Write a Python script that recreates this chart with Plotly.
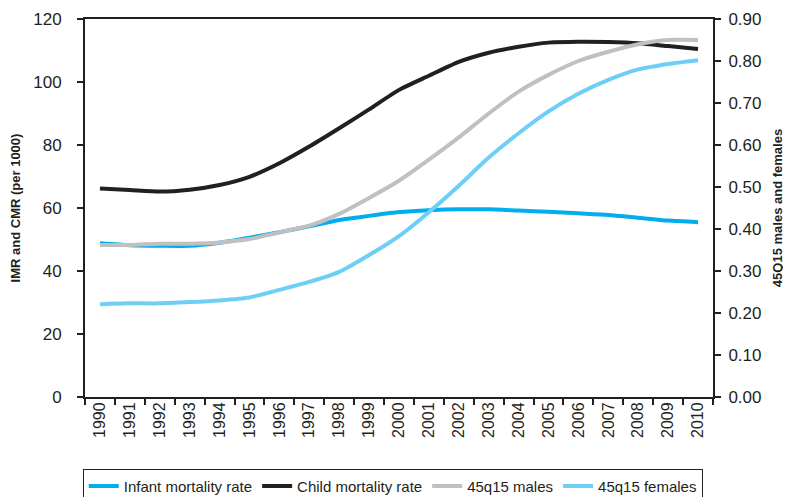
import plotly.graph_objects as go

years = [str(y) for y in range(1990, 2011)]
infant_mortality = [48.8, 48.2, 48.0, 48.0, 49.0, 50.6, 52.3, 54.2, 56.2, 57.5, 58.7, 59.3, 59.6, 59.6, 59.2, 58.8, 58.3, 57.8, 56.9, 56.0, 55.5]
child_mortality = [66.2, 65.7, 65.2, 65.8, 67.3, 69.9, 74.2, 79.5, 85.3, 91.3, 97.5, 102.0, 106.4, 109.3, 111.2, 112.5, 112.8, 112.7, 112.3, 111.4, 110.5]
q45_males = [0.362, 0.362, 0.365, 0.365, 0.368, 0.376, 0.392, 0.408, 0.436, 0.474, 0.515, 0.565, 0.618, 0.675, 0.727, 0.767, 0.800, 0.822, 0.840, 0.850, 0.850]
q45_females = [0.221, 0.223, 0.223, 0.226, 0.230, 0.237, 0.255, 0.274, 0.298, 0.338, 0.383, 0.440, 0.503, 0.570, 0.628, 0.680, 0.722, 0.755, 0.780, 0.793, 0.802]

left_ticks = [0, 20, 40, 60, 80, 100, 120]
right_ticks = [0.0, 0.1, 0.2, 0.3, 0.4, 0.5, 0.6, 0.7, 0.8, 0.9]

font_main = "Liberation Sans, Arial, sans-serif"

fig = go.Figure()
fig.add_trace(go.Scatter(x=years, y=infant_mortality, name="Infant mortality rate", mode="lines",
                         line=dict(color="#00AEEF", width=4, shape="spline", smoothing=0.6)))
fig.add_trace(go.Scatter(x=years, y=child_mortality, name="Child mortality rate", mode="lines",
                         line=dict(color="#231F20", width=4, shape="spline", smoothing=0.6)))
fig.add_trace(go.Scatter(x=years, y=q45_males, name="45q15 males", mode="lines", yaxis="y2",
                         line=dict(color="#C0C0C0", width=4, shape="spline", smoothing=0.6)))
fig.add_trace(go.Scatter(x=years, y=q45_females, name="45q15 females", mode="lines", yaxis="y2",
                         line=dict(color="#6DCFF6", width=4, shape="spline", smoothing=0.6)))

# page body has an 8px margin, so the figure is sized and placed to compensate
fig.update_layout(
    width=783, height=489,
    margin=dict(l=77, r=78, t=11, b=100, autoexpand=False),
    paper_bgcolor="white", plot_bgcolor="white",
    font=dict(family=font_main, color="#231F20"),
    xaxis=dict(
        type="category", tickson="boundaries", ticks="outside", ticklen=6, tickwidth=2,
        tickcolor="#231F20", showline=True, linecolor="#231F20", linewidth=2, mirror=True,
        showgrid=False, tickangle=-90, tickfont=dict(size=16, family=font_main),
        range=[-0.5, 20.5], automargin=False, ticklabelstandoff=-3,
    ),
    yaxis=dict(
        range=[0, 120], tickvals=left_ticks, ticktext=[str(v) for v in left_ticks],
        ticks="outside", ticklen=6, tickwidth=2, tickcolor="#231F20",
        showline=True, linecolor="#231F20", linewidth=2, showgrid=False, zeroline=False,
        tickfont=dict(size=17), ticklabelstandoff=12, automargin=False,
        title=dict(text="<b>IMR and CMR (per 1000)</b>", font=dict(size=13), standoff=10),
    ),
    yaxis2=dict(
        range=[0, 0.9], tickvals=right_ticks, ticktext=[f"{v:.2f}" for v in right_ticks],
        overlaying="y", side="right",
        ticks="outside", ticklen=6, tickwidth=2, tickcolor="#231F20",
        showline=True, linecolor="#231F20", linewidth=2, showgrid=False, zeroline=False,
        tickfont=dict(size=17), ticklabelstandoff=4, automargin=False,
        title=dict(text="<b>45Q15 males and females</b>", font=dict(size=13), standoff=12),
    ),
    showlegend=True,
    legend=dict(
        orientation="h", x=0.49, xanchor="center", y=-0.19, yanchor="top",
        bordercolor="#231F20", borderwidth=1, font=dict(size=15, family=font_main),
        itemwidth=30, tracegroupgap=0, itemclick=False,
    ),
)

fig.write_html("out.html")
